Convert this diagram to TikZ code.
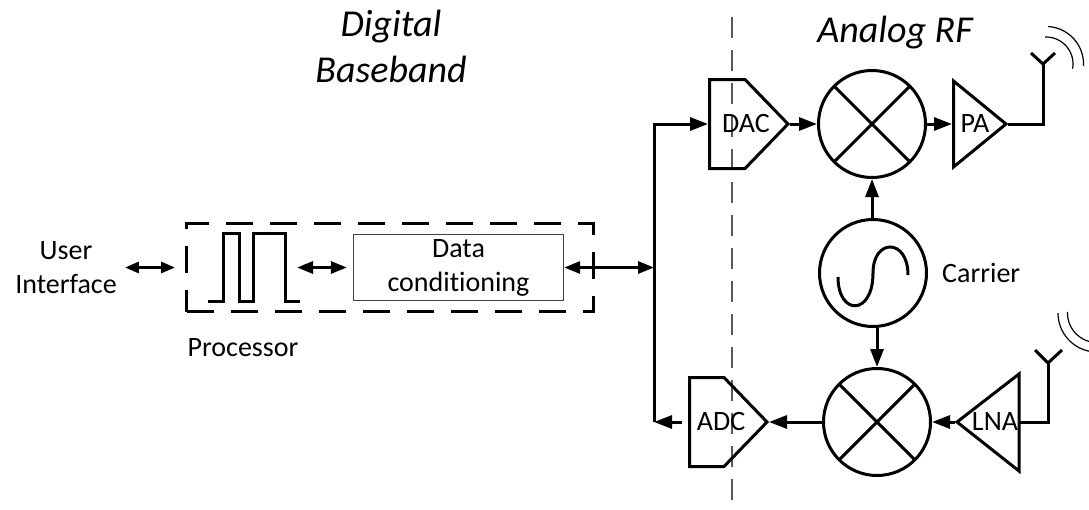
\documentclass[tikz,border=0pt]{standalone}
\usepackage{fontspec}
\setmainfont{Carlito}[Ligatures=NoCommon]
\usetikzlibrary{arrows.meta,calc}
\tikzset{
  ln/.style={line width=3pt},
  arr/.style={ln, -{Triangle[length=18pt,width=13pt]}},
  dbl/.style={ln, {Triangle[length=16pt,width=12pt]}-{Triangle[length=16pt,width=12pt]}},
  dbls/.style={ln, {Triangle[length=14pt,width=11pt]}-{Triangle[length=14pt,width=11pt]}},
  mixer/.style={circle, draw, ln, minimum size=107pt, inner sep=0pt,
    path picture={\draw[line width=3pt]
      (path picture bounding box.north west) -- (path picture bounding box.south east)
      (path picture bounding box.north east) -- (path picture bounding box.south west);}},
  oscil/.style={circle, draw, ln, minimum size=107pt, inner sep=0pt},
  lbl/.style={font=\fontsize{28}{34}\selectfont, inner sep=0pt},
  ttl/.style={font=\fontsize{38}{46}\selectfont\itshape, inner sep=0pt, align=center},
  dashbox/.style={draw, ln, dash pattern=on 27pt off 17pt, minimum width=407pt, minimum height=88pt, inner sep=0pt},
  databox/.style={lbl, draw=black!75, line width=1.3pt, minimum width=210pt, minimum height=66pt, align=center},
  divider/.style={draw=black!65, line width=2.5pt, dash pattern=on 21pt off 12pt},
  wave/.style={line width=1.2pt},
}
\begin{document}
\begin{tikzpicture}[x=1pt,y=-1pt]
\clip (0,0) rectangle (1089,509);
\fill[white] (0,0) rectangle (1089,509);

% divider between digital and analog parts
\coordinate (divtop) at (732,17);
\coordinate (divbot) at (732,512);
\draw[divider] (divtop) -- (divbot);

% titles (base = baseline of the last line)
\node[ttl, anchor=base] (tdig) at (391,82) {Digital\\Baseband};
\node[ttl, anchor=base] (trf) at (895,42) {Analog RF};

% digital part
\node[lbl, align=center, anchor=base] (ui) at (66,293) {User\\Interface};
\node[dashbox] (proc) at (390,267.5) {};
\node[lbl, anchor=base] (proclbl) at (243,356) {Processor};
\coordinate (pulse) at (254,267.5);
\draw[ln, shift={(pulse)}] (-46,33.5) -- (-31,33.5) -- (-31,-34) -- (-15,-34) -- (-15,33.5)
  -- (-1,33.5) -- (-1,-34) -- (31,-34) -- (31,33.5) -- (46,33.5);
\node[databox] (data) at (458.5,267.5) {Data\\conditioning};

\coordinate (uiarr) at (ui.east |- proc.west);
\draw[dbls] ([xshift=8pt]uiarr) -- ([xshift=-10pt]proc.west);
\draw[dbl] ([xshift=43pt]pulse) -- ([xshift=-6pt]data.west);

% bus
\coordinate (bustop) at (654,124);
\coordinate (busmid) at (654,267.5);
\coordinate (busbot) at (654,422);

% DAC
\coordinate (dacin) at (708,124);
\coordinate (dacout) at (790,124);
\draw[ln] (709.5,79.5) -- (745,79.5) -- (788,124) -- (745,168.5) -- (709.5,168.5) -- cycle;
\node[lbl] (daclbl) at (746,124) {DAC};

% ADC
\coordinate (adcin) at (769,422);
\coordinate (adcout) at (688,422);
\draw[ln] (689.5,377.5) -- (724,377.5) -- (767,422) -- (724,466.5) -- (689.5,466.5) -- cycle;
\node[lbl] (adclbl) at (721,422) {ADC};

% mixers and carrier
\node[mixer] (mix1) at (872,124) {};
\node[mixer] (mix2) at (877,422) {};
\node[oscil] (osc) at (873,273) {};
\draw[ln, shift={(osc.center)}] (-35,4) .. controls (-35,43) and (0,43) .. (0,0)
  .. controls (0,-35) and (35,-35) .. (35,2);
\node[lbl, anchor=west] (carlbl) at (942,273) {Carrier};

% PA
\coordinate (pain) at (952,124);
\coordinate (paout) at (1008,124);
\draw[ln] (953.5,81) -- (1006,124) -- (953.5,167) -- cycle;
\node[lbl] (palbl) at (975,124) {PA};

% LNA
\coordinate (lnain) at (1020,422);
\coordinate (lnaout) at (955,422);
\draw[ln] (1019,374) -- (1019,471) -- (957,422) -- cycle;
\node[lbl] (lnalbl) at (995,422) {LNA};

% antennas
\coordinate (ant1c) at (1043,124);
\coordinate (ant1) at (1043,64);
\coordinate (ant1l) at (1031,53);
\coordinate (ant1r) at (1055,53);
\coordinate (ant2c) at (1048,422);
\coordinate (ant2) at (1048,363);
\coordinate (ant2l) at (1035,350);
\coordinate (ant2r) at (1062,350);
\draw[ln] (paout) -- (ant1c) -- (ant1);
\draw[ln] (ant1l) -- (ant1) -- (ant1r);
\draw[ln] (lnain) -- (ant2c) -- (ant2);
\draw[ln] (ant2l) -- (ant2) -- (ant2r);
\draw[wave] plot[domain=-87:3, samples=40] ({1046+37.5*cos(\x)},{64+37.5*sin(\x)});
\draw[wave] plot[domain=-92:10, samples=40] ({1046+27*cos(\x)},{64+27*sin(\x)});
\draw[wave] plot[domain=95:180, samples=40] ({1097+39*cos(\x)},{313+39*sin(\x)});
\draw[wave] plot[domain=95:182, samples=40] ({1097+29.5*cos(\x)},{313+29.5*sin(\x)});

% connectors
\draw[arr] (busbot) -- (bustop) -- (dacin);
\draw[dbl] (data.east) -- (busmid);
\draw[arr] (dacout) -- (mix1.west);
\draw[arr] (mix1.east) -- (pain);
\draw[arr] (osc.north -| mix1) -- (mix1.south);
\draw[arr] (osc.south -| mix2) -- (mix2.north);
\draw[arr] (lnaout) -- (mix2.east);
\draw[arr] (mix2.west) -- (adcin);
\draw[arr] ([xshift=-6pt]adcout) -- (busbot);
\end{tikzpicture}
\end{document}
